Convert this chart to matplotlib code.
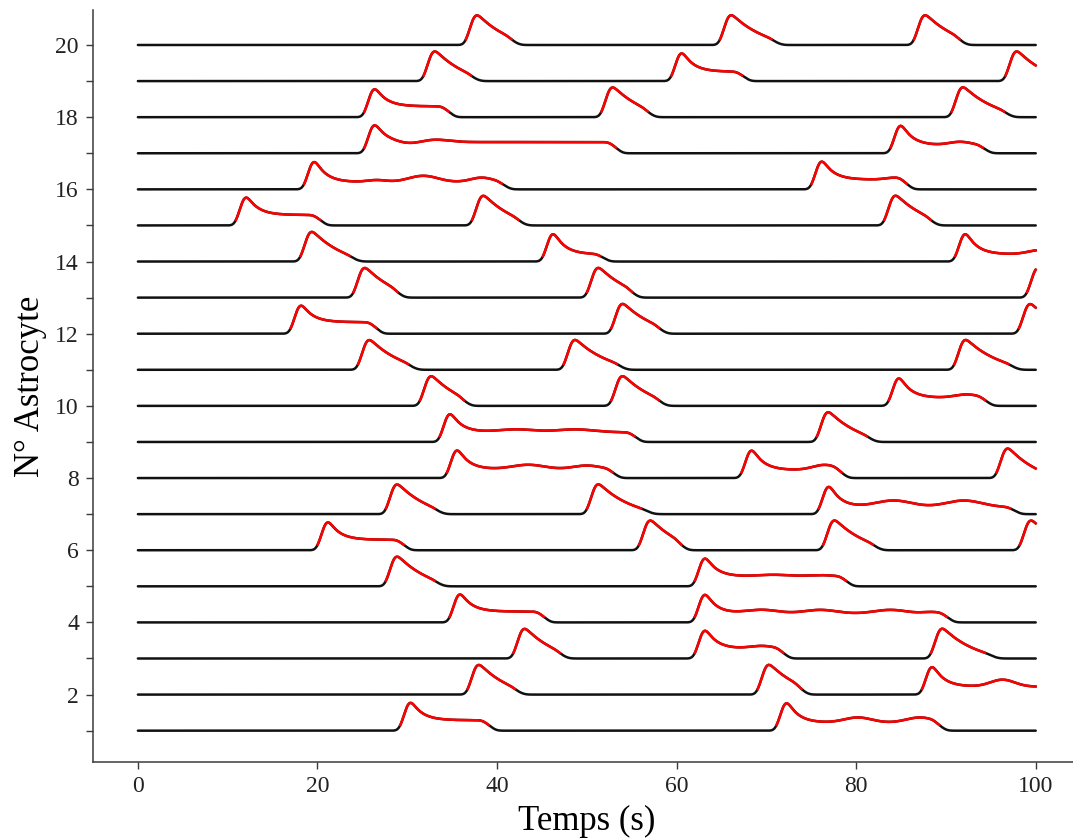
import matplotlib
matplotlib.use("Agg")
import matplotlib.pyplot as plt
import numpy as np

# one row per astrocyte (1 -> 20): event onset, return to rest, plateau level
onsets = [
    [29.2, 71.1],
    [36.7, 69.0, 87.3],
    [41.8, 62.0, 88.3],
    [34.7, 62.0],
    [27.6, 62.0],
    [20.0, 55.8, 76.3, 98.2],
    [27.6, 50.0, 75.8],
    [34.4, 67.2, 95.6],
    [33.6, 75.6],
    [31.4, 52.7, 83.6],
    [24.5, 47.4, 90.9],
    [17.0, 52.7, 98.1],
    [24.0, 50.0, 99.0],
    [18.1, 45.1, 91.0],
    [10.9, 37.2, 83.1],
    [18.5, 75.0],
    [25.2, 83.8],
    [25.2, 51.6, 90.6],
    [31.8, 59.4, 96.6],
    [36.5, 64.8, 86.4],
]
ends = [
    [39.9, 90.1],
    [43.2, 74.8, 110],
    [48.1, 72.7, 96.1],
    [46.0, 91.0],
    [34.4, 79.7],
    [30.4, 61.4, 83.1, 110],
    [34.4, 57.8, 98.4],
    [53.8, 79.2, 110],
    [56.2, 82.5],
    [37.3, 59.1, 95.3],
    [31.4, 54.7, 98.4],
    [27.3, 59.1, 110],
    [29.9, 56.0, 110],
    [25.0, 52.6, 110],
    [21.1, 43.5, 89.3],
    [41.6, 86.4],
    [54.0, 95.1],
    [35.4, 57.8, 97.7],
    [38.3, 68.2, 110],
    [42.7, 71.9, 92.5],
]
levels = [
    [0.29, 0.22],
    [0.05, 0.08, 0.22],
    [0.05, 0.27, 0.10],
    [0.30, 0.24],
    [0.05, 0.27],
    [0.29, 0.05, 0.08, 0.05],
    [0.05, 0.10, 0.19],
    [0.24, 0.22, 0.00],
    [0.27, 0.08],
    [0.05, 0.08, 0.22],
    [0.08, 0.12, 0.12],
    [0.32, 0.10, 0.05],
    [0.05, 0.08, 0.05],
    [0.05, 0.20, 0.20],
    [0.29, 0.05, 0.08],
    [0.20, 0.27],
    [0.31, 0.22],
    [0.30, 0.08, 0.12],
    [0.05, 0.26, 0.05],
    [0.05, 0.10, 0.08],
]
# oscillations on the plateaus: (time, extra height, width)
bumps = [
    [(80.2, 0.15, 1.5), (87.1, 0.15, 1.5)],
    [(96.3, 0.20, 1.3)],
    [(69.5, 0.08, 1.3)],
    [(69.5, 0.11, 1.8), (76.0, 0.11, 1.8), (83.8, 0.11, 1.8), (88.5, 0.05, 1.0)],
    [(70.8, 0.05, 1.8), (76.0, 0.04, 1.5)],
    [],
    [(84.2, 0.19, 2.0), (92.0, 0.19, 2.0)],
    [(43.5, 0.13, 1.8), (50.0, 0.11, 1.5), (76.5, 0.15, 1.3)],
    [(42.2, 0.08, 2.0), (48.7, 0.08, 2.0)],
    [(92.3, 0.10, 1.3)],
    [],
    [],
    [],
    [(100.5, 0.12, 1.3)],
    [],
    [(26.6, 0.06, 1.0), (31.8, 0.18, 1.6), (38.3, 0.13, 1.2), (84.4, 0.06, 1.0)],
    [(30.3, -0.06, 1.2), (33.1, 0.07, 1.5), (91.6, 0.10, 1.2)],
    [],
    [],
    [],
]

peak = 0.95
seuil = 0.16

t = np.arange(-5, 110, 0.02)
noyau = np.exp(-0.5 * (np.arange(-80, 81) / 18.0) ** 2)
noyau /= noyau.sum()


def trace(i):
    y = np.zeros_like(t)
    osc = np.zeros_like(t)
    for tb, hb, wb in bumps[i]:
        osc += hb * np.exp(-0.5 * ((t - tb) / wb) ** 2)
    for a, b, lv in zip(onsets[i], ends[i], levels[i]):
        tp = a + 1.0
        if lv <= 0.12:
            # short spike: slow, almost linear decline
            asym, tau = lv - 0.25, 4.0
        else:
            asym, tau = lv, 1.2
        montee = peak * np.clip((t - a) / 1.0, 0, 1)
        decr = asym + (peak - asym) * np.exp(-np.clip(t - tp, 0, None) / tau) + osc
        ev = np.where(t < tp, montee, decr)
        ev = ev * np.clip((b - t) / 1.5, 0, 1)
        ev[(t < a) | (t > b)] = 0
        y = np.maximum(y, np.clip(ev, 0, None))
    return np.convolve(y, noyau, mode="same")


plt.rcParams["font.family"] = ["Liberation Serif", "DejaVu Serif"]

fig = plt.figure(figsize=(10.73, 8.4), dpi=100)
ax = fig.add_axes([0.0865, 0.0932, 0.9206, 0.8949])

garde = (t >= 0) & (t <= 100)
tt = t[garde]
for i in range(20):
    y = trace(i)[garde]
    rouge = y > seuil
    rouge = rouge | np.roll(rouge, 1) | np.roll(rouge, -1)
    ax.plot(tt, y + i + 1, color="#111111", lw=1.8, solid_capstyle="round")
    ax.plot(tt, np.where(rouge, y + i + 1, np.nan), color="red", lw=1.8)

ax.set_xlim(-5, 105)
ax.set_ylim(0.14, 20.97)
ax.set_xticks([0, 20, 40, 60, 80, 100])
ax.set_yticks(range(1, 21))
ax.set_yticklabels([str(v) if v % 2 == 0 else "" for v in range(1, 21)])
ax.spines["top"].set_visible(False)
ax.spines["right"].set_visible(False)
for s in ["left", "bottom"]:
    ax.spines[s].set_color("#3a3a3a")
    ax.spines[s].set_linewidth(1.1)
ax.tick_params(length=5, width=1, color="#3a3a3a", labelsize=17, pad=5,
               labelcolor="#222222")
ax.set_xlabel("Temps (s)", fontsize=25, labelpad=6)
ax.set_ylabel("N° Astrocyte", fontsize=25, labelpad=6)

fig.savefig("out.png", dpi=100)
